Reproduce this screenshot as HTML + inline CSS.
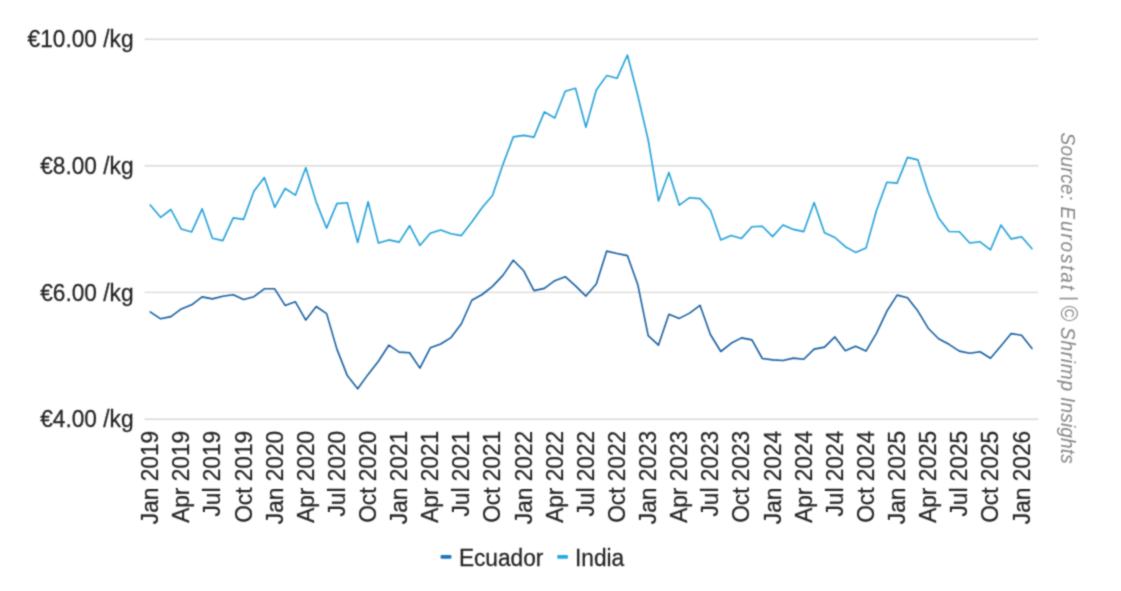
<!DOCTYPE html>
<html><head><meta charset="utf-8"><title>Shrimp prices</title>
<style>
html,body{margin:0;padding:0;background:#ffffff;}
body{width:1121px;height:591px;overflow:hidden;font-family:"Liberation Sans",sans-serif;}
svg{display:block;}
svg text{font-family:"Liberation Sans",sans-serif;}
.lb text{stroke:#242424;stroke-width:0.25px;}
</style></head><body>
<svg width="1121" height="591" viewBox="0 0 1121 591">
<defs><filter id="soft" x="0" y="0" width="1121" height="591" filterUnits="userSpaceOnUse" color-interpolation-filters="sRGB"><feConvolveMatrix order="3" kernelMatrix="1 2 1 2 8 2 1 2 1" divisor="20" edgeMode="duplicate" preserveAlpha="false"/></filter></defs>
<rect width="1121" height="591" fill="#ffffff"/>
<g filter="url(#soft)">
<rect width="1121" height="591" fill="#ffffff"/>
<g class="lb"><line x1="144.6" x2="1038.2" y1="39.2" y2="39.2" stroke="#d9d9d9" stroke-width="1.4"/>
<text transform="translate(133.5,47.3) scale(1,1.06)" text-anchor="end" font-size="22.7" fill="#242424">€10.00 /kg</text>
<line x1="144.6" x2="1038.2" y1="165.7" y2="165.7" stroke="#d9d9d9" stroke-width="1.4"/>
<text transform="translate(133.5,173.8) scale(1,1.06)" text-anchor="end" font-size="22.7" fill="#242424">€8.00 /kg</text>
<line x1="144.6" x2="1038.2" y1="292.4" y2="292.4" stroke="#d9d9d9" stroke-width="1.4"/>
<text transform="translate(133.5,300.6) scale(1,1.06)" text-anchor="end" font-size="22.7" fill="#242424">€6.00 /kg</text>
<line x1="144.6" x2="1038.2" y1="419.3" y2="419.3" stroke="#d9d9d9" stroke-width="1.4"/>
<text transform="translate(133.5,427.4) scale(1,1.06)" text-anchor="end" font-size="22.7" fill="#242424">€4.00 /kg</text>
</g>
<polyline fill="none" stroke="#22a0d8" stroke-width="1.6" stroke-linejoin="round" stroke-linecap="round" points="150.2,204.9 160.6,217.3 170.9,209.5 181.3,229.1 191.7,231.9 202.1,208.8 212.4,238.2 222.8,240.6 233.2,217.9 243.6,219.4 253.9,191.3 264.3,177.5 274.7,207.3 285.1,188.5 295.4,195.2 305.8,167.7 316.2,202.1 326.6,228.1 336.9,203.6 347.3,202.7 357.7,242.5 368.1,201.7 378.4,243.0 388.8,239.9 399.2,242.1 409.6,225.7 419.9,245.4 430.3,233.2 440.7,230.0 451.0,233.7 461.4,235.6 471.8,222.0 482.2,207.5 492.5,195.4 502.9,164.6 513.3,136.9 523.7,135.4 534.0,137.1 544.4,111.9 554.8,118.0 565.2,91.2 575.5,88.3 585.9,127.3 596.3,90.0 606.7,75.6 617.0,78.3 627.4,55.0 637.8,95.5 648.2,140.0 658.5,201.0 668.9,172.4 679.3,205.2 689.6,197.7 700.0,198.6 710.4,210.3 720.8,239.9 731.1,235.5 741.5,238.4 751.9,226.7 762.3,226.3 772.6,236.6 783.0,225.0 793.4,229.4 803.8,231.6 814.1,202.6 824.5,232.7 834.9,237.5 845.3,246.7 855.6,252.4 866.0,248.1 876.4,210.8 886.8,182.3 897.1,183.1 907.5,157.4 917.9,159.9 928.2,192.3 938.6,218.0 949.0,231.5 959.4,231.7 969.7,243.0 980.1,241.8 990.5,249.8 1000.9,225.1 1011.2,238.9 1021.6,236.8 1032.0,248.7"/>
<polyline fill="none" stroke="#185fa0" stroke-width="1.6" stroke-linejoin="round" stroke-linecap="round" points="150.2,311.9 160.6,318.8 170.9,316.6 181.3,308.9 191.7,304.8 202.1,296.9 212.4,298.9 222.8,296.3 233.2,294.7 243.6,299.4 253.9,296.7 264.3,288.8 274.7,288.8 285.1,305.4 295.4,301.8 305.8,320.1 316.2,306.5 326.6,313.6 336.9,349.1 347.3,375.6 357.7,388.8 368.1,374.4 378.4,361.2 388.8,345.2 399.2,352.1 409.6,352.8 419.9,368.1 430.3,347.8 440.7,344.0 451.0,337.6 461.4,323.7 471.8,300.3 482.2,294.5 492.5,286.4 502.9,275.4 513.3,260.2 523.7,270.8 534.0,290.6 544.4,288.4 554.8,280.7 565.2,276.7 575.5,285.9 585.9,296.1 596.3,284.0 606.7,251.1 617.0,253.5 627.4,255.6 637.8,284.7 648.2,335.6 658.5,345.1 668.9,314.3 679.3,318.4 689.6,313.1 700.0,305.3 710.4,334.5 720.8,351.5 731.1,343.3 741.5,337.9 751.9,339.9 762.3,358.5 772.6,359.9 783.0,360.5 793.4,358.1 803.8,359.3 814.1,349.1 824.5,347.1 834.9,336.9 845.3,350.7 855.6,346.3 866.0,351.1 876.4,333.4 886.8,311.3 897.1,295.1 907.5,297.7 917.9,311.1 928.2,328.2 938.6,338.7 949.0,344.3 959.4,351.1 969.7,353.3 980.1,351.7 990.5,358.2 1000.9,346.0 1011.2,333.6 1021.6,335.2 1032.0,348.5"/>
<g class="lb"><text transform="translate(158.1,430.8) rotate(-90) scale(1,1.06)" text-anchor="end" font-size="22.7" fill="#242424">Jan 2019</text>
<text transform="translate(189.2,430.8) rotate(-90) scale(1,1.06)" text-anchor="end" font-size="22.7" fill="#242424">Apr 2019</text>
<text transform="translate(220.3,430.8) rotate(-90) scale(1,1.06)" text-anchor="end" font-size="22.7" fill="#242424">Jul 2019</text>
<text transform="translate(251.5,430.8) rotate(-90) scale(1,1.06)" text-anchor="end" font-size="22.7" fill="#242424">Oct 2019</text>
<text transform="translate(282.6,430.8) rotate(-90) scale(1,1.06)" text-anchor="end" font-size="22.7" fill="#242424">Jan 2020</text>
<text transform="translate(313.7,430.8) rotate(-90) scale(1,1.06)" text-anchor="end" font-size="22.7" fill="#242424">Apr 2020</text>
<text transform="translate(344.8,430.8) rotate(-90) scale(1,1.06)" text-anchor="end" font-size="22.7" fill="#242424">Jul 2020</text>
<text transform="translate(376.0,430.8) rotate(-90) scale(1,1.06)" text-anchor="end" font-size="22.7" fill="#242424">Oct 2020</text>
<text transform="translate(407.1,430.8) rotate(-90) scale(1,1.06)" text-anchor="end" font-size="22.7" fill="#242424">Jan 2021</text>
<text transform="translate(438.2,430.8) rotate(-90) scale(1,1.06)" text-anchor="end" font-size="22.7" fill="#242424">Apr 2021</text>
<text transform="translate(469.3,430.8) rotate(-90) scale(1,1.06)" text-anchor="end" font-size="22.7" fill="#242424">Jul 2021</text>
<text transform="translate(500.4,430.8) rotate(-90) scale(1,1.06)" text-anchor="end" font-size="22.7" fill="#242424">Oct 2021</text>
<text transform="translate(531.6,430.8) rotate(-90) scale(1,1.06)" text-anchor="end" font-size="22.7" fill="#242424">Jan 2022</text>
<text transform="translate(562.7,430.8) rotate(-90) scale(1,1.06)" text-anchor="end" font-size="22.7" fill="#242424">Apr 2022</text>
<text transform="translate(593.8,430.8) rotate(-90) scale(1,1.06)" text-anchor="end" font-size="22.7" fill="#242424">Jul 2022</text>
<text transform="translate(624.9,430.8) rotate(-90) scale(1,1.06)" text-anchor="end" font-size="22.7" fill="#242424">Oct 2022</text>
<text transform="translate(656.1,430.8) rotate(-90) scale(1,1.06)" text-anchor="end" font-size="22.7" fill="#242424">Jan 2023</text>
<text transform="translate(687.2,430.8) rotate(-90) scale(1,1.06)" text-anchor="end" font-size="22.7" fill="#242424">Apr 2023</text>
<text transform="translate(718.3,430.8) rotate(-90) scale(1,1.06)" text-anchor="end" font-size="22.7" fill="#242424">Jul 2023</text>
<text transform="translate(749.4,430.8) rotate(-90) scale(1,1.06)" text-anchor="end" font-size="22.7" fill="#242424">Oct 2023</text>
<text transform="translate(780.5,430.8) rotate(-90) scale(1,1.06)" text-anchor="end" font-size="22.7" fill="#242424">Jan 2024</text>
<text transform="translate(811.7,430.8) rotate(-90) scale(1,1.06)" text-anchor="end" font-size="22.7" fill="#242424">Apr 2024</text>
<text transform="translate(842.8,430.8) rotate(-90) scale(1,1.06)" text-anchor="end" font-size="22.7" fill="#242424">Jul 2024</text>
<text transform="translate(873.9,430.8) rotate(-90) scale(1,1.06)" text-anchor="end" font-size="22.7" fill="#242424">Oct 2024</text>
<text transform="translate(905.0,430.8) rotate(-90) scale(1,1.06)" text-anchor="end" font-size="22.7" fill="#242424">Jan 2025</text>
<text transform="translate(936.1,430.8) rotate(-90) scale(1,1.06)" text-anchor="end" font-size="22.7" fill="#242424">Apr 2025</text>
<text transform="translate(967.3,430.8) rotate(-90) scale(1,1.06)" text-anchor="end" font-size="22.7" fill="#242424">Jul 2025</text>
<text transform="translate(998.4,430.8) rotate(-90) scale(1,1.06)" text-anchor="end" font-size="22.7" fill="#242424">Oct 2025</text>
<text transform="translate(1029.5,430.8) rotate(-90) scale(1,1.06)" text-anchor="end" font-size="22.7" fill="#242424">Jan 2026</text>
</g>
<rect x="440.6" y="555" width="10.8" height="3.8" rx="1.2" fill="#1c75bc"/>
<g class="lb"><text transform="translate(458.9,565.5) scale(1,1.06)" font-size="22.7" fill="#242424">Ecuador</text></g>
<rect x="557.2" y="555" width="10.8" height="3.8" rx="1.2" fill="#27aae1"/>
<g class="lb"><text transform="translate(575,565.5) scale(1,1.06)" font-size="22.7" fill="#242424">India</text></g>
<g transform="translate(1061.4,0) rotate(90) scale(1,1.07)" font-size="19" font-style="italic" fill="#868686">
<text x="132.4" y="0" textLength="68" lengthAdjust="spacing">Source:</text>
<text x="206.6" y="0" textLength="83.4" lengthAdjust="spacing">Eurostat</text>
<rect x="297.8" y="-15.4" width="1.5" height="17.2" fill="#868686"/>
<text x="305.2" y="0" font-size="21.5">©</text>
<text x="327" y="0" textLength="64" lengthAdjust="spacing">Shrimp</text>
<text x="397" y="0" textLength="66.8" lengthAdjust="spacing">Insights</text>
</g>
</g>
</svg>
</body></html>
